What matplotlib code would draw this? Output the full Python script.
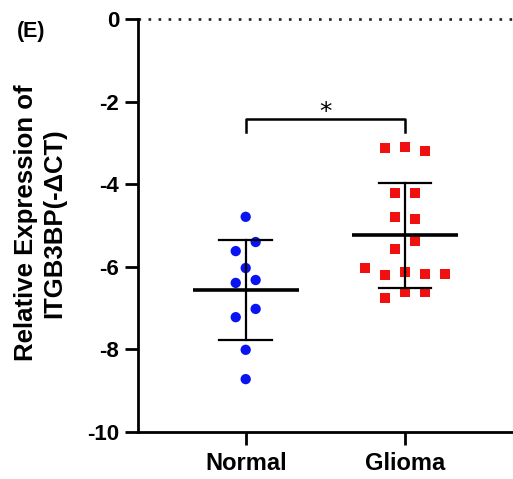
import numpy as np
import matplotlib
matplotlib.use("Agg")
import matplotlib.pyplot as plt

plt.rcParams['font.family'] = ['Liberation Sans', 'DejaVu Sans']

categories = ["Normal", "Glioma"]
normal_vals = [-4.79, -5.40, -5.62, -6.03, -6.32, -6.39, -7.02, -7.22, -8.01, -8.72]
glioma_vals = [-3.12, -3.10, -3.20, -4.21, -4.21, -4.79, -4.84, -5.38, -5.57,
               -6.03, -6.20, -6.13, -6.17, -6.17, -6.61, -6.61, -6.76]
# horizontal scatter offsets (swarm layout)
normal_off = [0.0, 0.0625, -0.0625, 0.0, 0.0625, -0.0625, 0.0625, -0.0625, 0.0, 0.0]
glioma_off = [-0.125, 0.0, 0.125, -0.0625, 0.0625, -0.0625, 0.0625, 0.0625, -0.0625,
              -0.25, -0.125, 0.0, 0.125, 0.25, 0.0, 0.125, -0.125]
yticks = [0, -2, -4, -6, -8, -10]
sig_label = "*"

fig = plt.figure(figsize=(5.13, 4.79), dpi=100)
ax = fig.add_axes([138/513, 1-432/479, 1-138/513, (432-19)/479])
ax.set_xlim(-0.676, 1.678)
ax.set_ylim(-10, 0)

groups = [normal_vals, glioma_vals]
ax.scatter(np.array(normal_off) + 0, normal_vals, s=55, marker='o', color='#0a14f0',
           edgecolors='none', zorder=3)
ax.scatter(np.array(glioma_off) + 1, glioma_vals, s=46, marker='s', color='#f01010',
           edgecolors='none', zorder=3)

for i, vals in enumerate(groups):
    m = np.mean(vals)
    sd = np.std(vals, ddof=1)
    ax.plot([i-0.333, i+0.333], [m, m], color='black', lw=2.6, zorder=4, solid_capstyle='butt')
    ax.plot([i, i], [m-sd, m+sd], color='black', lw=1.6, zorder=4)
    for yy in (m-sd, m+sd):
        ax.plot([i-0.166, i+0.166], [yy, yy], color='black', lw=1.6, zorder=4)

# dotted zero line
ax.axhline(0, color='#222222', lw=1.9, linestyle=(0, (1, 2.8)), zorder=2, clip_on=False)

# significance bracket
ax.plot([0, 0, 1, 1], [-2.73, -2.42, -2.42, -2.73], color='black', lw=1.8, clip_on=False)
ax.text(0.5, -2.24, sig_label, ha='center', va='center', fontsize=18,
        family='DejaVu Sans')

ax.set_xticks([0, 1])
ax.set_xticklabels(categories, fontsize=17, fontweight='bold')
ax.set_yticks(yticks)
ax.set_yticklabels([str(t) for t in yticks], fontsize=16, fontweight='bold')
ax.spines['top'].set_visible(False)
ax.spines['right'].set_visible(False)
for s in ('left', 'bottom'):
    ax.spines[s].set_linewidth(2)
ax.tick_params(axis='both', width=2, length=9.5)
ax.tick_params(axis='x', pad=5)
ax.tick_params(axis='y', pad=4)

fig.text(40/513, 1-223/479, "Relative Expression of\nITGB3BP(-ΔCT)", fontsize=18.5,
         fontweight='bold', rotation=90, ha='center', va='center', linespacing=1.22)

fig.text(17/513, 1-31/479, "(E)", fontsize=15.5, fontweight='bold', va='center', ha='left')

fig.savefig("out.png", dpi=100)
